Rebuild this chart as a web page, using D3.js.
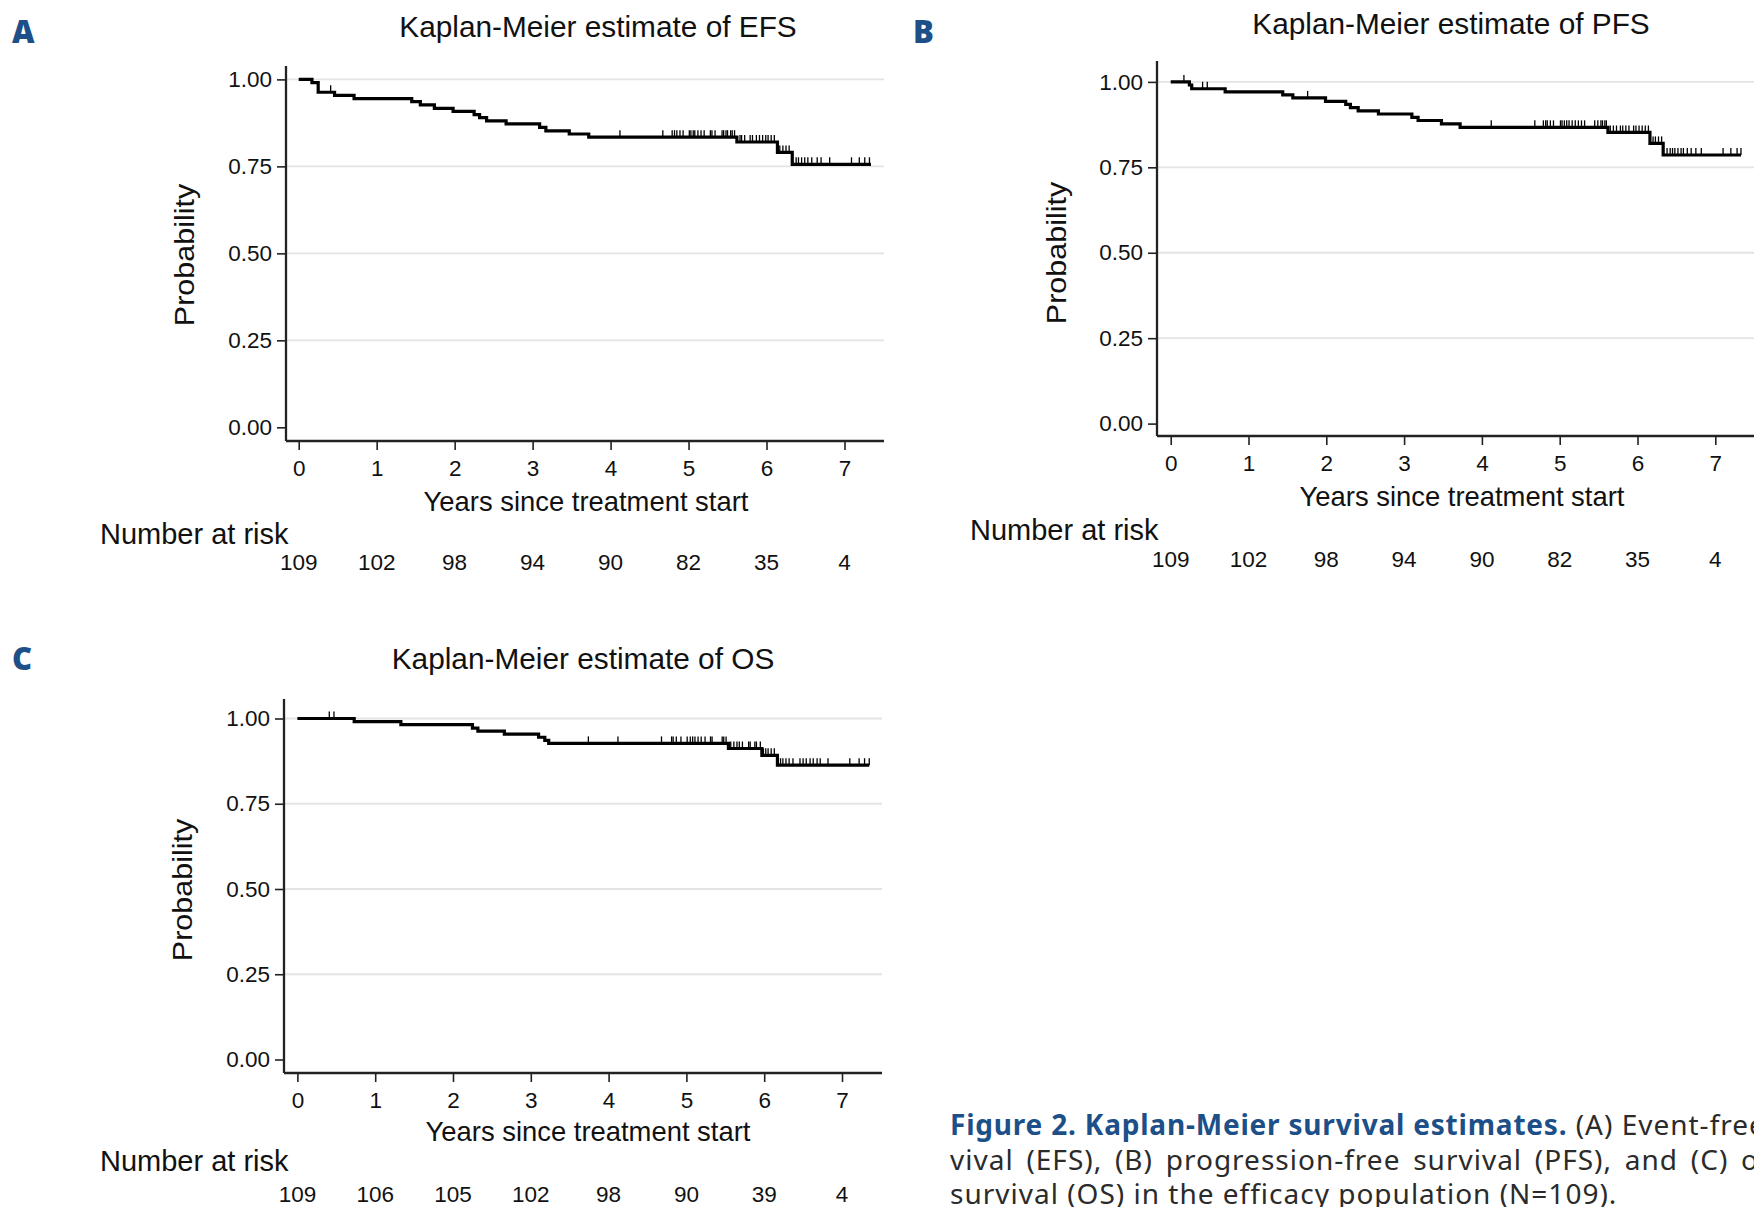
<!DOCTYPE html>
<html><head>
<meta charset="utf-8">
<title>Figure 2 - Kaplan-Meier survival estimates</title>
<script src="https://cdn.jsdelivr.net/npm/d3@7"></script>
<style>
  body { margin: 0; background: #fff; }
  svg { display: block; }
  .chart text { font-family: "Liberation Sans", Arial, sans-serif; fill: #111; }
  .tick text { font-size: 22.5px; }
  .tick line { stroke: #222; stroke-width: 1.6; }
  .grid { stroke: #e4e4e4; stroke-width: 1.8; }
  .axisline { stroke: #222; stroke-width: 2.3; }
  .km { fill: none; stroke: #000; stroke-width: 3.2; }
  .cens { stroke: #000; stroke-width: 1.3; }
  .letter { font-family: "Open Sans", sans-serif; font-weight: 800; font-size: 31px; fill: #1d4f88; }
  .caption { font-family: "Noto Sans", sans-serif; font-size: 28px; letter-spacing: 1px; fill: #2b2b2b; }
  .caption .lead { font-weight: 700; fill: #1d4f88; letter-spacing: 0.8px; }
</style>
</head><body>
<svg width="1754" height="1207"></svg>
<script>

// ---- data ----
const years = [0, 1, 2, 3, 4, 5, 6, 7];
const probTicks = [0, 0.25, 0.5, 0.75, 1];

// EFS step function (event times in years, survival after the step)
const efsTimes = [0, 0.17, 0.25, 0.46, 0.71, 1.45, 1.56, 1.74, 1.98, 2.25, 2.32, 2.41, 2.66, 3.09, 3.17, 3.47, 3.72, 5.62, 6.14, 6.33];
const efsSurv  = [1.00, 0.991, 0.963, 0.954, 0.945, 0.936, 0.927, 0.917, 0.908, 0.899, 0.890, 0.881, 0.872, 0.862, 0.852, 0.843, 0.834, 0.820, 0.790, 0.756];
const efsEnd = 7.34;
const efsCensored = [0.41, 4.12, 4.67, 4.79, 4.82, 4.85, 4.89, 4.93, 5.01, 5.03, 5.06, 5.08, 5.12, 5.16, 5.20, 5.28, 5.30, 5.34,
  5.43, 5.45, 5.48, 5.50, 5.54, 5.56, 5.59, 5.66, 5.68, 5.72, 5.79, 5.82, 5.87, 5.91, 5.95, 5.99, 6.02, 6.06, 6.10,
  6.17, 6.21, 6.25, 6.29, 6.38, 6.41, 6.45, 6.49, 6.53, 6.58, 6.65, 6.70, 6.81, 7.09, 7.19, 7.26, 7.32];
const efsRisk = [109, 102, 98, 94, 90, 82, 35, 4];

// PFS
const pfsTimes = [0, 0.24, 0.27, 0.70, 1.44, 1.57, 1.99, 2.25, 2.31, 2.41, 2.67, 3.10, 3.18, 3.48, 3.72, 5.62, 6.16, 6.33];
const pfsSurv  = [1.00, 0.991, 0.980, 0.971, 0.962, 0.953, 0.943, 0.934, 0.925, 0.915, 0.906, 0.896, 0.887, 0.877, 0.867, 0.852, 0.820, 0.786];
const pfsEnd = 7.33;
const pfsCensored = [0.17, 0.41, 0.47, 1.76, 4.12, 4.68, 4.79, 4.82, 4.84, 4.88, 4.92, 5.01, 5.03, 5.06, 5.09, 5.12, 5.16, 5.20,
  5.24, 5.28, 5.32, 5.45, 5.49, 5.53, 5.55, 5.58, 5.60, 5.65, 5.69, 5.73, 5.78, 5.81, 5.85, 5.89, 5.95, 5.98, 6.02, 6.06,
  6.10, 6.14, 6.20, 6.23, 6.27, 6.31, 6.38, 6.42, 6.45, 6.48, 6.52, 6.56, 6.59, 6.64, 6.69, 6.75, 6.82, 7.10, 7.20, 7.28, 7.33];
const pfsRisk = [109, 102, 98, 94, 90, 82, 35, 4];

// OS
const osTimes = [0, 0.73, 1.33, 2.25, 2.32, 2.66, 3.10, 3.18, 3.23, 5.54, 5.97, 6.17];
const osSurv  = [1.00, 0.991, 0.982, 0.972, 0.963, 0.954, 0.945, 0.936, 0.927, 0.912, 0.892, 0.863];
const osEnd = 7.35;
const osCensored = [0.41, 0.47, 3.74, 4.12, 4.68, 4.81, 4.83, 4.87, 4.93, 5.01, 5.05, 5.08, 5.11, 5.15, 5.19, 5.24, 5.31, 5.33,
  5.46, 5.48, 5.51, 5.57, 5.61, 5.65, 5.68, 5.72, 5.80, 5.82, 5.88, 5.90, 5.95, 5.99, 6.02, 6.05, 6.09, 6.13, 6.21, 6.24,
  6.28, 6.32, 6.37, 6.46, 6.50, 6.54, 6.59, 6.63, 6.68, 6.72, 6.82, 7.10, 7.22, 7.29, 7.35];
const osRisk = [109, 106, 105, 102, 98, 90, 39, 4];

const captionLead = "Figure 2. Kaplan-Meier survival estimates.";
const captionLines = [
  " (A) Event-free sur-",
  "vival (EFS), (B) progression-free survival (PFS), and (C) overall",
  "survival (OS) in the efficacy population (N=109)."
];

// ---- layout (pixels) ----
const panels = [
  { letter: "A", title: "Kaplan-Meier estimate of EFS", times: efsTimes, surv: efsSurv, end: efsEnd, cens: efsCensored, risk: efsRisk,
    ox: 298.7, oy: 427.3, ppy: 77.97, ppu: 347.9, axX: 286, axY: 441, axTop: 66, axRight: 884,
    letterPos: [12, 43], titlePos: [598, 37], probPos: [194, 255], xlabPos: [586, 511], narPos: [100, 544], riskY: 570 },
  { letter: "B", title: "Kaplan-Meier estimate of PFS", times: pfsTimes, surv: pfsSurv, end: pfsEnd, cens: pfsCensored, risk: pfsRisk,
    ox: 1170.7, oy: 423.6, ppy: 77.8, ppu: 341.7, axX: 1157, axY: 436, axTop: 61, axRight: 1760,
    letterPos: [913, 43], titlePos: [1451, 34], probPos: [1066, 253], xlabPos: [1462, 506], narPos: [970, 540], riskY: 567 },
  { letter: "C", title: "Kaplan-Meier estimate of OS", times: osTimes, surv: osSurv, end: osEnd, cens: osCensored, risk: osRisk,
    ox: 297.4, oy: 1059.5, ppy: 77.8, ppu: 341, axX: 284, axY: 1073, axTop: 699, axRight: 882,
    letterPos: [12, 670], titlePos: [583, 669], probPos: [192, 890], xlabPos: [588, 1141], narPos: [100, 1171], riskY: 1202 }
];

const svg = d3.select("svg");

function drawPanel(p) {
  const g = svg.append("g").attr("class", "chart");
  const x = d3.scaleLinear().domain([0, 7]).range([p.ox, p.ox + 7 * p.ppy]);
  const y = d3.scaleLinear().domain([0, 1]).range([p.oy, p.oy - p.ppu]);

  // light horizontal gridlines
  g.selectAll(".grid")
    .data(probTicks.filter(v => v > 0))
    .join("line")
    .attr("class", "grid")
    .attr("x1", p.axX).attr("x2", p.axRight)
    .attr("y1", d => y(d)).attr("y2", d => y(d));

  // axes
  const ya = g.append("g")
    .attr("transform", `translate(${p.axX},0)`)
    .call(d3.axisLeft(y).tickValues(probTicks).tickFormat(d3.format(".2f")).tickSize(9).tickPadding(5));
  ya.select(".domain").remove();

  const xa = g.append("g")
    .attr("transform", `translate(0,${p.axY})`)
    .call(d3.axisBottom(x).tickValues(years).tickFormat(d3.format("d")).tickSize(9).tickPadding(10));
  xa.select(".domain").remove();

  g.append("line").attr("class", "axisline")
    .attr("x1", p.axX).attr("x2", p.axX).attr("y1", p.axTop).attr("y2", p.axY);
  g.append("line").attr("class", "axisline")
    .attr("x1", p.axX).attr("x2", p.axRight).attr("y1", p.axY).attr("y2", p.axY);

  // KM step curve
  const pts = p.times.map((t, i) => [t, p.surv[i]]);
  pts.push([p.end, p.surv[p.surv.length - 1]]);
  const line = d3.line().x(d => x(d[0])).y(d => y(d[1])).curve(d3.curveStepAfter);
  g.append("path").attr("class", "km").attr("d", line(pts));

  // censoring marks
  const survAt = t => p.surv[d3.bisectRight(p.times, t) - 1];
  g.selectAll(".cens")
    .data(p.cens)
    .join("line")
    .attr("class", "cens")
    .attr("x1", d => x(d)).attr("x2", d => x(d))
    .attr("y1", d => y(survAt(d)))
    .attr("y2", d => y(survAt(d)) - 7);

  // text
  g.append("text")
    .attr("x", p.titlePos[0]).attr("y", p.titlePos[1])
    .attr("text-anchor", "middle").style("font-size", "29.8px")
    .text(p.title);

  g.append("text")
    .attr("transform", `translate(${p.probPos[0]},${p.probPos[1]}) rotate(-90) scale(1,0.93)`)
    .attr("text-anchor", "middle").style("font-size", "30.5px")
    .text("Probability");

  g.append("text")
    .attr("x", p.xlabPos[0]).attr("y", p.xlabPos[1])
    .attr("text-anchor", "middle").style("font-size", "27.4px")
    .text("Years since treatment start");

  g.append("text")
    .attr("x", p.narPos[0]).attr("y", p.narPos[1])
    .style("font-size", "29px")
    .text("Number at risk");

  g.selectAll(".risk")
    .data(p.risk)
    .join("text")
    .attr("class", "risk")
    .attr("x", (d, i) => x(years[i])).attr("y", p.riskY)
    .attr("text-anchor", "middle").style("font-size", "22.5px")
    .text(d => d);

  svg.append("text").attr("class", "letter")
    .attr("x", p.letterPos[0]).attr("y", p.letterPos[1])
    .text(p.letter);
}

panels.forEach(drawPanel);

// caption, bottom right (runs off the page edge as in the source)
const cap = svg.append("text").attr("class", "caption");
const capBase = [1135, 1170, 1204];
const l1 = cap.append("tspan").attr("x", 950).attr("y", capBase[0]);
l1.append("tspan").attr("class", "lead").text(captionLead);
l1.append("tspan").text(captionLines[0]);
cap.append("tspan").attr("x", 950).attr("y", capBase[1]).style("word-spacing", "4.5px").text(captionLines[1]);
cap.append("tspan").attr("x", 950).attr("y", capBase[2]).text(captionLines[2]);

</script>
</body>
</html>
